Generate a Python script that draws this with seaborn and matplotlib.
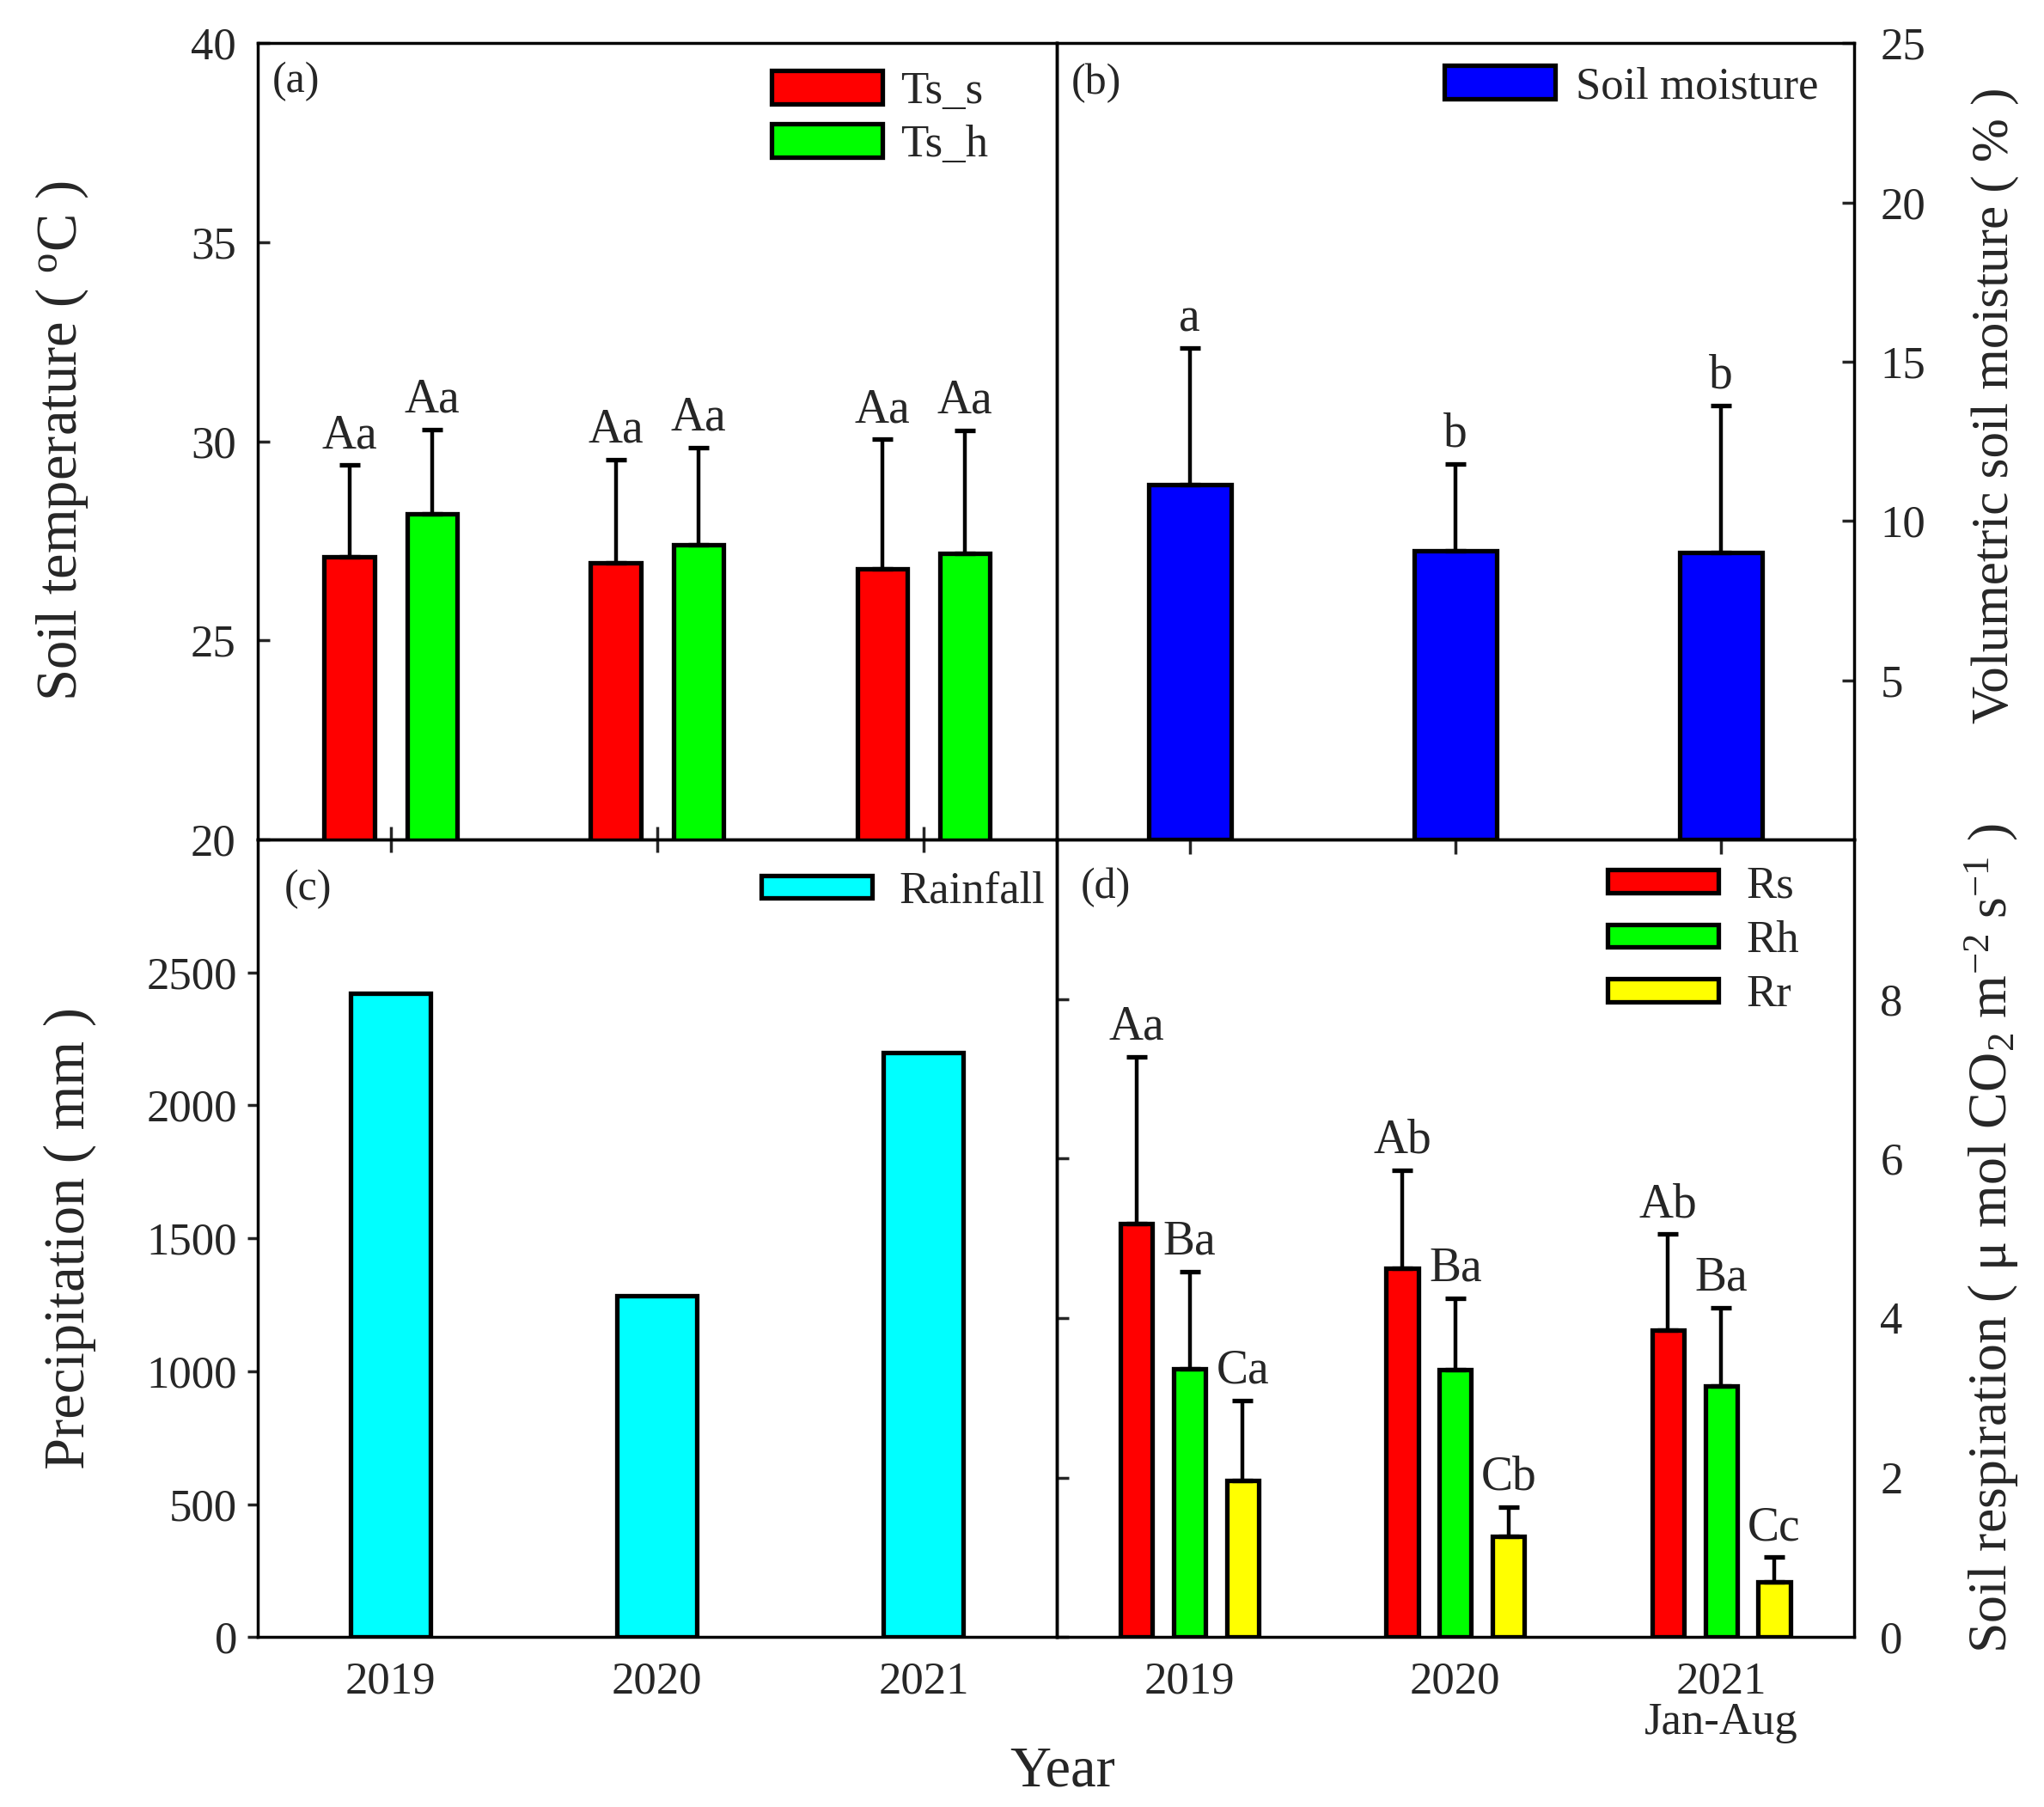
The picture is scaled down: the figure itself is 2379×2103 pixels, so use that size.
import pandas as pd
import seaborn as sns
import matplotlib.pyplot as plt
from matplotlib.patches import Patch

years = ['2019', '2020', '2021']

# (a) soil temperature
ts_groups = ['Ts_s', 'Ts_h']
ts_s_mean = [27.1, 26.95, 26.8]
ts_s_err = [2.3, 2.6, 3.25]
ts_h_mean = [28.17, 27.4, 27.18]
ts_h_err = [2.13, 2.45, 3.1]
ts_s_lab = ['Aa', 'Aa', 'Aa']
ts_h_lab = ['Aa', 'Aa', 'Aa']

# (b) soil moisture
sm_mean = [11.15, 9.07, 9.0]
sm_err = [4.27, 2.73, 4.63]
sm_lab = ['a', 'b', 'b']

# (c) rainfall
rain = [2420, 1283, 2197]

# (d) soil respiration
r_groups = ['Rs', 'Rh', 'Rr']
rs_mean = [5.18, 4.62, 3.85]
rs_err = [2.09, 1.23, 1.2]
rh_mean = [3.36, 3.35, 3.15]
rh_err = [1.22, 0.9, 0.98]
rr_mean = [1.96, 1.26, 0.69]
rr_err = [1.01, 0.37, 0.31]
rs_lab = ['Aa', 'Ab', 'Ab']
rh_lab = ['Ba', 'Ba', 'Ba']
rr_lab = ['Ca', 'Cb', 'Cc']

RED, GREEN, YELLOW, BLUE, CYAN = '#FF0000', '#00FF00', '#FFFF00', '#0000FF', '#00FFFF'

sns.set_style('ticks')
plt.rcParams['font.family'] = ['Liberation Serif', 'DejaVu Serif']
plt.rcParams['mathtext.fontset'] = 'custom'
plt.rcParams['mathtext.rm'] = 'Liberation Serif'
plt.rcParams['mathtext.it'] = 'Liberation Serif:italic'
plt.rcParams['axes.linewidth'] = 1.25
plt.rcParams['axes.edgecolor'] = 'black'

TICK = 19
LAB = 24
EDGE = 1.9

fig = plt.figure(figsize=(11.895, 10.515), dpi=200)
L, M, R = 0.126, 0.517, 0.907
T, H, B = 0.976, 0.5355, 0.094
ax_c = fig.add_axes([L, B, M - L, H - B])
ax_d = fig.add_axes([M, B, R - M, H - B])
ax_a = fig.add_axes([L, H, M - L, T - H])
ax_b = fig.add_axes([M, H, R - M, T - H])
for ax in (ax_a, ax_b, ax_c, ax_d):
    ax.patch.set_alpha(0)


def add_err(ax, means, errs, labels):
    bars = sorted(ax.patches, key=lambda p: p.get_x())
    xs = [p.get_x() + p.get_width() / 2 for p in bars]
    ax.errorbar(xs, means, yerr=[[0] * len(errs), errs], fmt='none', ecolor='black',
                elinewidth=1.6, capsize=4.3, capthick=1.9, zorder=3)
    for x, m, e, t in zip(xs, means, errs, labels):
        ax.annotate(t, (x, m + e), xytext=(0, 3), textcoords='offset points',
                    ha='center', va='bottom', fontsize=20)


def interleave(*cols):
    out = []
    for i in range(len(cols[0])):
        for c in cols:
            out.append(c[i])
    return out


# ---- (a)
df_a = pd.DataFrame({'year': years * 2, 'grp': ['Ts_s'] * 3 + ['Ts_h'] * 3,
                     'val': ts_s_mean + ts_h_mean})
sns.barplot(data=df_a, x='year', y='val', hue='grp', hue_order=ts_groups, order=years,
            palette=[RED, GREEN], width=0.62, gap=0.39, errorbar=None, legend=False,
            edgecolor='black', linewidth=EDGE, saturation=1, ax=ax_a)
add_err(ax_a, interleave(ts_s_mean, ts_h_mean), interleave(ts_s_err, ts_h_err),
        interleave(ts_s_lab, ts_h_lab))
ax_a.set_ylim(20, 40)
ax_a.set_xlim(-0.5, 2.5)
ax_a.set_yticks([20, 25, 30, 35, 40])
ax_a.tick_params(axis='y', direction='in', length=5, width=1.25, labelsize=TICK, pad=9)
ax_a.tick_params(axis='x', direction='inout', length=11, width=1.25, labelbottom=False)
ax_a.set_xlabel('')
ax_a.set_ylabel('Soil temperature ( $^{\\rm o}$C )', fontsize=LAB, labelpad=42)
ax_a.legend(handles=[Patch(facecolor=c, edgecolor='black', linewidth=EDGE, label=g)
                     for c, g in zip([RED, GREEN], ts_groups)],
            loc='upper left', bbox_to_anchor=(0.643, 0.966), frameon=False, fontsize=TICK,
            handlelength=2.45, handleheight=0.75, handletextpad=0.4, labelspacing=0.26,
            borderpad=0, borderaxespad=0)
ax_a.text(0.018, 0.952, '(a)', transform=ax_a.transAxes, fontsize=18, va='center')

# ---- (b)
df_b = pd.DataFrame({'year': years, 'val': sm_mean})
sns.barplot(data=df_b, x='year', y='val', order=years, color=BLUE, width=0.31,
            errorbar=None, edgecolor='black', linewidth=EDGE, saturation=1, ax=ax_b)
add_err(ax_b, sm_mean, sm_err, sm_lab)
ax_b.set_ylim(0, 25)
ax_b.set_xlim(-0.5, 2.5)
ax_b.set_yticks([5, 10, 15, 20, 25])
ax_b.yaxis.tick_right()
ax_b.yaxis.set_label_position('right')
ax_b.tick_params(axis='y', direction='in', length=5, width=1.25, labelsize=TICK, pad=11)
ax_b.tick_params(axis='x', direction='out', length=6, width=1.25, labelbottom=False)
ax_b.set_xlabel('')
ax_b.set_ylabel('Volumetric soil moisture ( % )', fontsize=22, labelpad=19)
ax_b.yaxis.label.set_y(0.545)
ax_b.legend(handles=[Patch(facecolor=BLUE, edgecolor='black', linewidth=EDGE, label='Soil moisture')],
            loc='upper left', bbox_to_anchor=(0.486, 0.972), frameon=False, fontsize=TICK,
            handlelength=2.45, handleheight=0.75, handletextpad=0.45,
            borderpad=0, borderaxespad=0)
ax_b.text(0.018, 0.95, '(b)', transform=ax_b.transAxes, fontsize=18, va='center')

# ---- (c)
df_c = pd.DataFrame({'year': years, 'val': rain})
sns.barplot(data=df_c, x='year', y='val', order=years, color=CYAN, width=0.30,
            errorbar=None, edgecolor='black', linewidth=EDGE, saturation=1, ax=ax_c)
ax_c.set_ylim(0, 3000)
ax_c.set_xlim(-0.5, 2.5)
ax_c.set_yticks([0, 500, 1000, 1500, 2000, 2500])
ax_c.tick_params(axis='y', direction='out', length=4.5, width=1.25, labelsize=TICK, pad=4)
ax_c.tick_params(axis='x', length=0, labelsize=TICK, pad=10)
ax_c.set_xlabel('')
ax_c.set_ylabel('Precipitation ( mm )', fontsize=LAB, labelpad=21)
ax_c.legend(handles=[Patch(facecolor=CYAN, edgecolor='black', linewidth=EDGE, label='Rainfall')],
            loc='upper left', bbox_to_anchor=(0.630, 0.96), frameon=False, fontsize=TICK,
            handlelength=2.45, handleheight=0.4, handletextpad=0.6,
            borderpad=0, borderaxespad=0)
ax_c.text(0.033, 0.9375, '(c)', transform=ax_c.transAxes, fontsize=18, va='center')

# ---- (d)
df_d = pd.DataFrame({'year': years * 3, 'grp': ['Rs'] * 3 + ['Rh'] * 3 + ['Rr'] * 3,
                     'val': rs_mean + rh_mean + rr_mean})
sns.barplot(data=df_d, x='year', y='val', hue='grp', hue_order=r_groups, order=years,
            palette=[RED, GREEN, YELLOW], width=0.6, gap=0.4, errorbar=None, legend=False,
            edgecolor='black', linewidth=EDGE, saturation=1, ax=ax_d)
add_err(ax_d, interleave(rs_mean, rh_mean, rr_mean), interleave(rs_err, rh_err, rr_err),
        interleave(rs_lab, rh_lab, rr_lab))
ax_d.set_ylim(0, 10)
ax_d.set_xlim(-0.5, 2.5)
ax_d.set_yticks([0, 2, 4, 6, 8])
ax_d.yaxis.set_ticks_position('both')
ax_d.yaxis.set_label_position('right')
ax_d.tick_params(axis='y', which='major', left=True, right=False, labelleft=False,
                 labelright=True, direction='in', length=5, width=1.25, labelsize=TICK, pad=11)
ax_d.tick_params(axis='x', length=0, labelsize=TICK, pad=10)
ax_d.set_xticks([0, 1, 2])
ax_d.set_xticklabels(['2019', '2020', '2021\nJan-Aug'], linespacing=1.0)
ax_d.set_xlabel('')
ax_d.set_ylabel('Soil respiration ( \u03bc mol CO$_2$ m$^{-2}$ s$^{-1}$ )', fontsize=23, labelpad=25)
ax_d.legend(handles=[Patch(facecolor=c, edgecolor='black', linewidth=EDGE, label=g)
                     for c, g in zip([RED, GREEN, YELLOW], r_groups)],
            loc='upper left', bbox_to_anchor=(0.691, 0.967), frameon=False, fontsize=TICK,
            handlelength=2.45, handleheight=0.4, handletextpad=0.6, labelspacing=0.29,
            borderpad=0, borderaxespad=0)
ax_d.text(0.03, 0.94, '(d)', transform=ax_d.transAxes, fontsize=18, va='center')

for ax in (ax_a, ax_b, ax_c, ax_d):
    for s in ax.spines.values():
        s.set_visible(True)
        s.set_linewidth(1.25)

fig.text(0.520, 0.005, 'Year', fontsize=LAB, ha='center', va='bottom')

fig.savefig('out.png', dpi=200)
